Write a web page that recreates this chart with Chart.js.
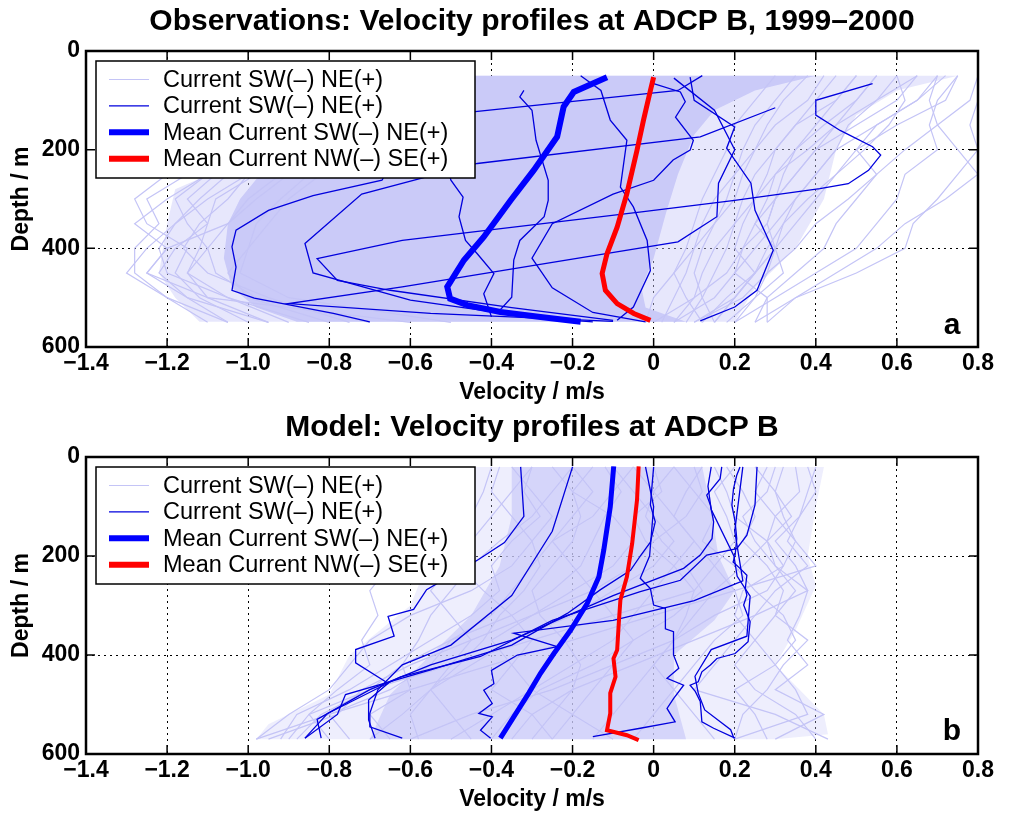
<!DOCTYPE html>
<html>
<head>
<meta charset="utf-8">
<script src="https://cdn.jsdelivr.net/npm/chart.js@4.4.1/dist/chart.umd.min.js"></script>
<style>
  body { margin: 0; background: #fff; }
  #wrap { position: relative; width: 1014px; height: 813px; }
  canvas { position: absolute; left: 0; }
</style>
</head>
<body>
<div id="wrap">
  <canvas id="chartA" width="1014" height="406" style="top:0px"></canvas>
  <canvas id="chartB" width="1014" height="407" style="top:406px"></canvas>
</div>
<script>
// axis ticks
const xTickLabels = ["−1.4", "−1.2", "−1.0", "−0.8", "−0.6", "−0.4", "−0.2", "0", "0.2", "0.4", "0.6", "0.8"];
const legendLabels = ["Current SW(–) NE(+)", "Current SW(–) NE(+)", "Mean Current SW(–) NE(+)", "Mean Current NW(–) SE(+)"];

// ---- panel a: observations ----
const depthsA = [50, 100, 150, 200, 250, 300, 350, 400, 450, 500, 550];

// dense part of the profile cloud (outline, velocity / depth)
const coreAVel = [-0.62, 0.40, 0.25, 0.15, 0.10, 0.06, 0.03, 0.00, -0.03, -0.02, 0.08, -0.88, -0.98, -1.04, -1.06, -1.05, -1.02, -0.98, -0.85, -0.70, -0.62];
const coreADep = [50, 50, 80, 120, 170, 250, 330, 420, 480, 520, 549, 549, 520, 480, 420, 350, 300, 260, 180, 120, 80];
// looser outer part of the cloud
const shellAVel = [-0.62, 0.75, 0.60, 0.50, 0.45, 0.42, 0.35, 0.25, 0.20, -1.12, -1.18, -1.22, -1.20, -1.18, -0.90, -0.70];
const shellADep = [50, 50, 80, 130, 200, 300, 400, 480, 549, 549, 500, 450, 350, 280, 180, 100];

// single profiles at the edges of the cloud
const lightA = [
  [-0.75, -0.85, -0.95, -1.05, -1.15, -1.25, -1.22, -1.28, -1.28, -1.20, -1.10],
  [-0.70, -0.80, -0.90, -1.00, -1.10, -1.20, -1.28, -1.20, -1.25, -1.15, -0.95],
  [-0.60, -0.70, -0.85, -0.95, -1.05, -1.12, -1.18, -1.22, -1.20, -1.05, -0.85],
  [-0.65, -0.75, -0.82, -0.90, -1.00, -1.05, -1.12, -1.16, -1.10, -0.95, -0.75],
  [-0.55, -0.65, -0.75, -0.88, -0.98, -1.08, -1.10, -1.12, -1.15, -1.05, -0.90],
  [-0.50, -0.60, -0.70, -0.80, -0.92, -1.00, -1.05, -1.10, -1.08, -0.98, -0.70],
  [-0.60, -0.70, -0.80, -0.85, -0.90, -0.98, -1.05, -1.20, -1.25, -1.10, -0.60],
  [-0.55, -0.62, -0.70, -0.78, -0.85, -0.92, -0.98, -1.00, -1.02, -0.90, -0.50],
  [-0.70, -0.80, -0.90, -1.00, -1.08, -1.15, -1.10, -1.18, -1.22, -1.15, -1.05],
  [-0.50, -0.55, -0.65, -0.75, -0.82, -0.90, -0.95, -1.00, -1.05, -1.00, -0.80],
  [-0.80, -0.90, -1.00, -1.10, -1.20, -1.28, -1.25, -1.15, -1.18, -1.12, -1.00],
  [-0.60, -0.70, -0.80, -0.90, -1.00, -1.10, -1.18, -1.25, -1.30, -1.20, -1.05],
  [-0.65, -0.72, -0.85, -0.98, -1.10, -1.18, -1.15, -1.10, -1.15, -1.10, -0.95],
  [0.75, 0.72, 0.60, 0.50, 0.45, 0.40, 0.35, 0.30, 0.25, 0.20, 0.15],
  [0.80, 0.78, 0.70, 0.62, 0.55, 0.50, 0.45, 0.42, 0.35, 0.28, 0.25],
  [0.70, 0.65, 0.55, 0.50, 0.55, 0.48, 0.40, 0.35, 0.28, 0.22, 0.10],
  [0.60, 0.55, 0.48, 0.45, 0.40, 0.35, 0.30, 0.25, 0.20, 0.15, 0.05],
  [0.50, 0.45, 0.40, 0.35, 0.32, 0.30, 0.28, 0.22, 0.18, 0.10, 0.00],
  [0.75, 0.70, 0.68, 0.70, 0.62, 0.60, 0.55, 0.50, 0.40, 0.30, 0.20],
  [0.80, 0.80, 0.78, 0.80, 0.75, 0.70, 0.64, 0.62, 0.50, 0.35, 0.25],
  [0.70, 0.68, 0.70, 0.75, 0.80, 0.72, 0.62, 0.55, 0.45, 0.35, 0.28],
  [0.45, 0.40, 0.35, 0.30, 0.25, 0.22, 0.20, 0.18, 0.15, 0.12, 0.08],
  [0.65, 0.60, 0.50, 0.40, 0.35, 0.30, 0.25, 0.22, 0.20, 0.28, 0.28],
  [0.55, 0.50, 0.42, 0.35, 0.30, 0.28, 0.25, 0.30, 0.32, 0.25, 0.20],
  [0.35, 0.30, 0.25, 0.22, 0.20, 0.18, 0.15, 0.12, 0.10, 0.12, 0.15],
  [0.60, 0.62, 0.58, 0.52, 0.45, 0.38, 0.32, 0.28, 0.25, 0.18, 0.12],
  [0.30, 0.25, 0.20, 0.18, 0.15, 0.12, 0.10, 0.08, 0.05, 0.08, 0.12],
  [0.55, 0.50, 0.45, 0.38, 0.30, 0.25, 0.20, 0.15, 0.12, 0.10, 0.05],
  [0.42, 0.38, 0.30, 0.25, 0.20, 0.15, 0.12, 0.10, 0.08, 0.05, 0.02],
  [0.65, 0.55, 0.45, 0.40, 0.35, 0.30, 0.28, 0.30, 0.25, 0.20, 0.15],
  [0.50, 0.45, 0.35, 0.30, 0.28, 0.25, 0.22, 0.20, 0.25, 0.20, 0.10],
  [0.38, 0.32, 0.28, 0.25, 0.22, 0.20, 0.15, 0.10, 0.05, 0.00, -0.02],
  [0.72, 0.65, 0.55, 0.45, 0.40, 0.35, 0.32, 0.30, 0.28, 0.25, 0.18]
];

// highlighted single profiles [velocity, depth]
const darkA = [
  [[0.54, 66], [0.40, 100], [0.40, 130], [0.46, 161], [0.54, 194], [0.56, 211], [0.53, 242], [0.48, 269], [0.41, 279], [0.20, 303], [-0.03, 326], [-0.62, 384], [-0.83, 421], [-0.78, 465], [-0.65, 485], [-0.35, 520], [-0.10, 546]],
  [[0.12, 50], [0.06, 80], [-0.44, 123], [-0.62, 190], [-0.67, 262], [-0.84, 293], [-0.95, 323], [-1.03, 363], [-1.04, 397], [-1.03, 438], [-1.04, 485], [-0.985, 501], [-0.79, 532], [-0.70, 549]],
  [[0.09, 53], [0.10, 100], [0.20, 154], [0.18, 197], [0.24, 268], [0.25, 323], [0.295, 404], [0.255, 485], [0.20, 519], [0.115, 547]],
  [[-0.18, 50], [-0.13, 80], [-0.107, 140], [-0.066, 181], [-0.082, 276], [-0.05, 316], [-0.016, 384], [-0.008, 445], [-0.05, 519], [-0.09, 546]],
  [[-0.32, 80], [-0.33, 93], [-0.30, 120], [-0.29, 181], [-0.26, 262], [-0.26, 303], [-0.27, 336], [-0.33, 384], [-0.345, 424], [-0.35, 499], [-0.38, 526], [-0.20, 548]],
  [[0.30, 115], [0.115, 174], [-0.435, 228], [-0.72, 290], [-0.86, 390], [-0.84, 450], [-0.60, 505], [-0.30, 540], [-0.15, 549]],
  [[0.05, 55], [0.15, 120], [0.20, 200], [0.16, 268], [0.156, 336], [0.06, 387], [-0.62, 478], [-0.90, 512], [-0.55, 532], [-0.10, 548]],
  [[-0.55, 110], [-0.52, 200], [-0.50, 262], [-0.47, 296], [-0.48, 336], [-0.464, 384], [-0.435, 411], [-0.394, 451], [-0.419, 492], [-0.40, 539]],
  [[0.00, 66], [0.066, 83], [0.078, 103], [0.054, 134], [0.098, 181], [0.09, 201], [0.048, 221], [0.00, 262], [-0.10, 290], [-0.25, 350], [-0.30, 420], [-0.25, 480], [-0.15, 530], [-0.02, 549]]
];

const meanAlongVel = [-0.115, -0.197, -0.222, -0.238, -0.296, -0.353, -0.419, -0.468, -0.509, -0.502, -0.46, -0.378, -0.279, -0.18];
const meanAlongDep = [53, 83, 113, 174, 242, 303, 377, 424, 478, 502, 515, 529, 539, 549];
const meanCrossVel = [0.0, -0.008, -0.025, -0.041, -0.066, -0.09, -0.115, -0.127, -0.119, -0.09, -0.049, -0.008];
const meanCrossDep = [53, 80, 140, 201, 289, 357, 411, 451, 485, 512, 532, 546];

// ---- panel b: model ----
const depthsB = [20, 70, 120, 170, 220, 270, 320, 370, 420, 470, 520, 570];

const coreBVel = [-0.35, 0.12, 0.14, 0.16, 0.20, 0.15, 0.05, 0.05, 0.08, -0.70, -0.65, -0.55, -0.45, -0.38, -0.35];
const coreBDep = [20, 20, 100, 200, 270, 330, 400, 480, 570, 570, 480, 400, 320, 220, 120];
const shellBVel = [-0.48, 0.42, 0.40, 0.38, 0.40, 0.35, 0.30, 0.42, 0.43, 0.30, -0.98, -0.95, -0.80, -0.75, -0.60, -0.55, -0.50];
const shellBDep = [20, 20, 100, 200, 260, 350, 420, 520, 560, 570, 570, 540, 480, 400, 300, 200, 100];

const lightB = [
  [0.40, 0.38, 0.36, 0.33, 0.38, 0.30, 0.25, 0.20, 0.15, 0.10, 0.30, 0.43],
  [0.35, 0.36, 0.30, 0.28, 0.32, 0.22, 0.20, 0.25, 0.30, 0.35, 0.38, 0.20],
  [0.30, 0.28, 0.22, 0.25, 0.30, 0.38, 0.25, 0.10, -0.05, -0.20, -0.30, -0.35],
  [0.25, 0.30, 0.32, 0.35, 0.40, 0.20, 0.00, -0.20, -0.40, -0.60, -0.80, -0.98],
  [0.20, 0.15, 0.18, 0.20, 0.15, 0.10, -0.10, -0.30, -0.50, -0.70, -0.85, -0.90],
  [0.10, 0.12, 0.08, 0.00, -0.05, -0.15, -0.30, -0.45, -0.60, -0.72, -0.78, -0.95],
  [-0.05, -0.10, -0.15, -0.25, -0.30, -0.35, -0.40, -0.50, -0.55, -0.65, -0.80, -0.75],
  [-0.20, -0.25, -0.30, -0.38, -0.45, -0.50, -0.55, -0.58, -0.62, -0.60, -0.70, -0.65],
  [-0.30, -0.35, -0.40, -0.45, -0.50, -0.55, -0.50, -0.45, -0.50, -0.55, -0.50, -0.45],
  [-0.40, -0.42, -0.45, -0.50, -0.48, -0.42, -0.35, -0.30, -0.35, -0.40, -0.30, -0.25],
  [-0.15, -0.20, -0.18, -0.20, -0.25, -0.30, -0.28, -0.22, -0.18, -0.20, -0.25, -0.30],
  [0.00, 0.02, -0.05, -0.02, 0.05, 0.10, 0.08, 0.05, 0.00, -0.05, -0.10, -0.15],
  [0.05, 0.10, 0.15, 0.12, 0.20, 0.25, 0.32, 0.35, 0.30, 0.20, 0.25, 0.28],
  [0.15, 0.18, 0.20, 0.28, 0.30, 0.35, 0.30, 0.38, 0.32, 0.28, 0.22, 0.20],
  [-0.10, -0.05, 0.00, 0.05, 0.00, -0.10, -0.20, -0.35, -0.45, -0.55, -0.62, -0.70],
  [-0.25, -0.20, -0.10, -0.05, -0.10, -0.20, -0.30, -0.40, -0.35, -0.30, -0.20, -0.10],
  [-0.35, -0.30, -0.25, -0.30, -0.35, -0.45, -0.60, -0.70, -0.75, -0.80, -0.90, -0.98],
  [-0.45, -0.50, -0.55, -0.60, -0.65, -0.70, -0.68, -0.72, -0.70, -0.78, -0.85, -0.80],
  [0.32, 0.30, 0.34, 0.28, 0.22, 0.15, 0.10, 0.05, 0.00, 0.05, 0.10, 0.15],
  [0.12, 0.08, 0.05, 0.10, 0.15, 0.20, 0.22, 0.15, 0.10, 0.05, 0.00, -0.05],
  [-0.20, -0.15, -0.20, -0.25, -0.20, -0.15, -0.10, -0.05, -0.10, -0.15, -0.20, -0.25],
  [0.38, 0.40, 0.36, 0.30, 0.35, 0.38, 0.36, 0.33, 0.38, 0.30, 0.42, 0.30],
  [-0.05, 0.00, 0.05, 0.10, 0.05, 0.00, -0.05, -0.10, -0.20, -0.30, -0.40, -0.50],
  [-0.30, -0.32, -0.28, -0.35, -0.40, -0.38, -0.45, -0.55, -0.65, -0.75, -0.88, -0.92],
  [0.28, 0.25, 0.30, 0.35, 0.32, 0.28, 0.15, 0.05, -0.10, -0.25, -0.45, -0.60],
  [0.18, 0.22, 0.25, 0.22, 0.28, 0.32, 0.30, 0.25, 0.20, 0.25, 0.35, 0.40],
  [-0.12, -0.08, -0.12, -0.15, -0.18, -0.25, -0.35, -0.50, -0.62, -0.70, -0.82, -0.88],
  [0.05, 0.00, -0.02, 0.02, 0.08, 0.12, 0.05, -0.05, -0.15, -0.28, -0.35, -0.40],
  [-0.38, -0.40, -0.35, -0.30, -0.28, -0.32, -0.38, -0.42, -0.48, -0.55, -0.60, -0.58]
];

const darkB = [
  [[0.213, 20], [0.205, 37], [0.197, 64], [0.193, 97], [0.201, 131], [0.205, 165], [0.201, 198], [0.196, 212], [0.213, 225], [0.23, 239], [0.226, 266], [0.23, 279], [0.222, 299], [0.238, 333], [0.233, 373], [0.201, 397], [0.156, 407], [0.14, 420], [0.119, 434], [0.11, 454], [0.09, 461], [0.103, 474], [0.115, 494], [0.119, 535], [0.148, 548], [0.201, 568]],
  [[0.255, 20], [0.25, 97], [0.23, 158], [0.205, 185], [0.131, 198], [0.066, 249], [-0.033, 272], [-0.25, 330], [-0.427, 403], [-0.624, 444], [-0.804, 518], [-0.86, 568]],
  [[0.168, 20], [0.164, 44], [0.131, 77], [0.14, 97], [0.148, 131], [0.144, 165], [0.115, 198], [0.074, 225], [-0.10, 280], [-0.35, 370], [-0.55, 420], [-0.70, 470], [-0.83, 530], [-0.82, 568]],
  [[-0.328, 20], [-0.32, 120], [-0.368, 173], [-0.432, 207], [-0.56, 268], [-0.592, 308], [-0.655, 322], [-0.64, 362], [-0.735, 389], [-0.735, 416], [-0.655, 457], [-0.703, 491], [-0.703, 531], [-0.687, 568]],
  [[0.22, 20], [0.20, 150], [0.22, 250], [0.10, 290], [-0.10, 330], [-0.345, 356], [-0.238, 383], [-0.336, 400], [-0.40, 431], [-0.394, 458], [-0.419, 471], [-0.398, 498], [-0.431, 518], [-0.398, 525], [-0.427, 552], [-0.402, 568]],
  [[0.00, 20], [-0.008, 97], [0.004, 131], [-0.008, 172], [-0.033, 200], [-0.057, 229], [-0.131, 268], [-0.213, 316], [-0.35, 380], [-0.55, 430], [-0.76, 480], [-0.78, 520], [-0.86, 568]],
  [[-0.02, 20], [0.00, 100], [-0.01, 200], [-0.033, 245], [-0.008, 266], [0.00, 299], [0.029, 306], [0.029, 347], [0.049, 353], [0.049, 400], [0.062, 427], [0.033, 447], [0.074, 461], [0.049, 488], [0.033, 508], [0.053, 535], [-0.033, 548], [-0.15, 565]],
  [[0.142, 20], [0.134, 59], [0.142, 106], [0.198, 200], [0.206, 241], [0.238, 281], [0.23, 362], [0.142, 389], [0.102, 443], [0.11, 477], [0.126, 511], [0.19, 551], [0.198, 568]],
  [[-0.20, 20], [-0.25, 150], [-0.35, 280], [-0.50, 380], [-0.62, 420], [-0.68, 470], [-0.70, 518], [-0.70, 545], [-0.62, 568]]
];

const meanAlongVelB = [-0.0985, -0.107, -0.123, -0.135, -0.164, -0.205, -0.246, -0.279, -0.308, -0.345, -0.378];
const meanAlongDepB = [19, 101, 188, 242, 296, 350, 397, 437, 477, 525, 568];
const meanCrossVelB = [-0.037, -0.041, -0.053, -0.066, -0.082, -0.086, -0.09, -0.099, -0.094, -0.107, -0.107, -0.115, -0.066, -0.037];
const meanCrossDepB = [19, 87, 175, 242, 289, 336, 390, 407, 444, 477, 518, 552, 562, 572];

const LIGHT = "#c4c4f6";
const DARK = "#0000dd";
const BLUE = "#0000ff";
const RED = "#ff0000";
const FONT = "'Liberation Sans', Arial, Helvetica, sans-serif";

function pts(vel, dep) {
  return vel.map((v, i) => ({ x: v, y: dep[i] }));
}
function pairPts(arr) {
  return arr.map(p => ({ x: p[0], y: p[1] }));
}
function lineSet(data, color, width, order) {
  return { data: data, showLine: true, borderColor: color, borderWidth: width, pointRadius: 0, fill: false, order: order };
}
function areaSet(data, fillColor, order) {
  const s = lineSet(data, "rgba(0,0,0,0)", 0, order);
  s.fill = "shape";
  s.backgroundColor = fillColor;
  return s;
}

function decor(title, letter) {
  return {
    id: "decor",
    afterDraw(chart) {
      const ctx = chart.ctx;
      const a = chart.chartArea;
      const xs = chart.scales.x, ys = chart.scales.y;
      ctx.save();
      // inward tick marks
      ctx.strokeStyle = "#000";
      ctx.lineWidth = 1.5;
      ctx.beginPath();
      xs.ticks.forEach(t => {
        const px = xs.getPixelForValue(t.value);
        ctx.moveTo(px, a.bottom); ctx.lineTo(px, a.bottom - 9);
        ctx.moveTo(px, a.top); ctx.lineTo(px, a.top + 9);
      });
      ys.ticks.forEach(t => {
        const py = ys.getPixelForValue(t.value);
        ctx.moveTo(a.left, py); ctx.lineTo(a.left + 9, py);
        ctx.moveTo(a.right, py); ctx.lineTo(a.right - 9, py);
      });
      ctx.stroke();
      // box
      ctx.lineWidth = 2.5;
      ctx.strokeRect(a.left, a.top, a.right - a.left, a.bottom - a.top);

      // legend
      const lx = a.left + 10, ly = a.top + 10, lw = 379, lh = 117;
      ctx.fillStyle = "#fff";
      ctx.fillRect(lx, ly, lw, lh);
      ctx.lineWidth = 1.5;
      ctx.strokeRect(lx, ly, lw, lh);
      const sampleColors = [LIGHT, DARK, BLUE, RED];
      const sampleWidths = [1, 1.3, 6, 6];
      ctx.font = "23.5px " + FONT;
      ctx.textBaseline = "middle";
      ctx.textAlign = "left";
      legendLabels.forEach((lab, i) => {
        const ry = ly + 18.5 + i * 26.4;
        ctx.strokeStyle = sampleColors[i];
        ctx.lineWidth = sampleWidths[i];
        ctx.beginPath();
        ctx.moveTo(lx + 13, ry); ctx.lineTo(lx + 53, ry);
        ctx.stroke();
        ctx.fillStyle = "#000";
        ctx.fillText(lab, lx + 67, ry + 1);
      });

      // title and panel letter
      ctx.fillStyle = "#000";
      ctx.textAlign = "center";
      ctx.textBaseline = "alphabetic";
      ctx.font = "bold 30px " + FONT;
      ctx.fillText(title, (a.left + a.right) / 2, 30);
      ctx.fillText(letter, 952, a.top + 283);
      ctx.restore();
    }
  };
}

function makeChart(id, cfg) {
  const datasets = [];
  datasets.push(lineSet(pts(cfg.meanCrossVel, cfg.meanCrossDep), RED, cfg.meanWidth - 1, 0));
  datasets.push(lineSet(pts(cfg.meanAlongVel, cfg.meanAlongDep), BLUE, cfg.meanWidth, 1));
  cfg.dark.forEach(p => datasets.push(lineSet(pairPts(p), DARK, 1.3, 10)));
  cfg.light.forEach(v => datasets.push(lineSet(pts(v, cfg.depths), LIGHT, 1.2, 20)));
  datasets.push(areaSet(pts(cfg.coreVel, cfg.coreDep), cfg.coreFill, 30));
  datasets.push(areaSet(pts(cfg.shellVel, cfg.shellDep), cfg.shellFill, 31));

  const tickFont = { family: FONT, size: 23, weight: "bold" };
  return new Chart(document.getElementById(id), {
    type: "scatter",
    data: { datasets: datasets },
    options: {
      responsive: false,
      animation: false,
      layout: { padding: { top: 51, right: 36, left: 0, bottom: 0 } },
      plugins: { legend: { display: false }, tooltip: { enabled: false } },
      scales: {
        x: {
          type: "linear", min: -1.4, max: 0.8,
          ticks: {
            stepSize: 0.2, autoSkip: false, maxRotation: 0, padding: 3, color: "#000", font: tickFont,
            callback: v => xTickLabels[(Math.round(v * 10) + 14) / 2]
          },
          grid: { color: "#000", lineWidth: 1, drawTicks: false },
          border: { display: false, dash: [2, 4] },
          title: { display: true, text: "Velocity / m/s", color: "#000", font: tickFont, padding: { top: 0, bottom: 0 } },
          afterFit: s => { s.height = 59; }
        },
        y: {
          type: "linear", reverse: true, min: 0, max: 600,
          ticks: { stepSize: 200, padding: 6, color: "#000", font: tickFont },
          grid: { color: "#000", lineWidth: 1, drawTicks: false },
          border: { display: false, dash: [2, 4] },
          title: { display: true, text: "Depth / m", color: "#000", font: tickFont, padding: { top: 8, bottom: 0 } },
          afterFit: s => { s.width = 86; }
        }
      }
    },
    plugins: [decor(cfg.title, cfg.letter)]
  });
}

makeChart("chartA", {
  title: "Observations: Velocity profiles at ADCP B, 1999–2000",
  letter: "a",
  depths: depthsA, light: lightA, dark: darkA,
  coreVel: coreAVel, coreDep: coreADep, coreFill: "#cacaf8",
  shellVel: shellAVel, shellDep: shellADep, shellFill: "rgba(202,202,248,0.45)",
  meanAlongVel: meanAlongVel, meanAlongDep: meanAlongDep,
  meanCrossVel: meanCrossVel, meanCrossDep: meanCrossDep,
  meanWidth: 6
});

makeChart("chartB", {
  title: "Model: Velocity profiles at ADCP B",
  letter: "b",
  depths: depthsB, light: lightB, dark: darkB,
  coreVel: coreBVel, coreDep: coreBDep, coreFill: "rgba(202,202,248,0.7)",
  shellVel: shellBVel, shellDep: shellBDep, shellFill: "rgba(202,202,248,0.32)",
  meanAlongVel: meanAlongVelB, meanAlongDep: meanAlongDepB,
  meanCrossVel: meanCrossVelB, meanCrossDep: meanCrossDepB,
  meanWidth: 5
});
</script>
</body>
</html>
